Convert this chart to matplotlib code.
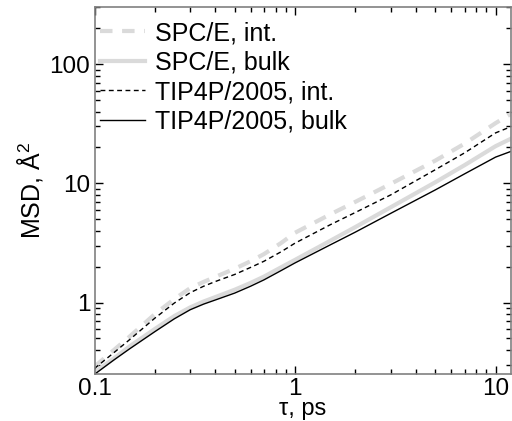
import matplotlib
matplotlib.use("Agg")
import matplotlib.pyplot as plt
from matplotlib.ticker import LogLocator, NullFormatter, FixedLocator, FixedFormatter

plt.rcParams['font.family'] = ['Liberation Sans', 'DejaVu Sans']
plt.rcParams['mathtext.fontset'] = 'custom'
plt.rcParams['mathtext.rm'] = 'Liberation Sans'

# MSD curves, tau in ps, MSD in A^2
tau = [0.1, 0.125, 0.15, 0.2, 0.25, 0.3, 0.35, 0.4, 0.5, 0.6, 0.7, 0.85, 1.0,
       1.5, 2.0, 3.0, 5.0, 7.0, 10.0, 12.0]
spce_int = [0.29, 0.40, 0.52, 0.80, 1.07, 1.32, 1.49, 1.64, 1.92, 2.22, 2.55, 3.15, 3.85,
            5.5, 7.0, 9.9, 15.5, 21.5, 32.0, 38.5]
spce_bulk = [0.26, 0.34, 0.43, 0.60, 0.77, 0.91, 1.02, 1.11, 1.28, 1.46, 1.65, 1.97, 2.28,
             3.30, 4.30, 6.30, 10.2, 14.2, 20.5, 23.8]
tip4p_int = [0.28, 0.38, 0.49, 0.74, 0.99, 1.21, 1.37, 1.50, 1.72, 1.97, 2.22, 2.66, 3.15,
             4.50, 5.70, 8.00, 13.0, 18.0, 26.5, 30.0]
tip4p_bulk = [0.25, 0.33, 0.41, 0.57, 0.73, 0.87, 0.97, 1.05, 1.20, 1.37, 1.55, 1.85, 2.15,
              3.05, 3.90, 5.60, 8.80, 12.0, 16.6, 18.6]

labels = ["SPC/E, int.", "SPC/E, bulk", "TIP4P/2005, int.", "TIP4P/2005, bulk"]
lgray = "#dadada"

fig = plt.figure(figsize=(5.12, 4.21), dpi=100)
ax = fig.add_axes([0.1846, 0.1124, 0.8129, 0.8703])

ax.plot(tau, spce_int, color=lgray, lw=3.0, ls=(0, (3.0, 2.3)), label=labels[0])
ax.plot(tau, spce_bulk, color=lgray, lw=3.0, label=labels[1])
ax.plot(tau, tip4p_int, color="black", lw=1.0, ls=(0, (3.5, 2.5)), label=labels[2])
ax.plot(tau, tip4p_bulk, color="black", lw=1.0, label=labels[3])

ax.set_xscale("log")
ax.set_yscale("log")
ax.set_xlim(0.1, 11.9)
ax.set_ylim(0.253, 300)

ax.xaxis.set_major_locator(FixedLocator([0.1, 1, 10]))
ax.xaxis.set_major_formatter(FixedFormatter(["0.1", "1", "10"]))
ax.yaxis.set_major_locator(FixedLocator([1, 10, 100]))
ax.yaxis.set_major_formatter(FixedFormatter(["1", "10", "100"]))
for a in (ax.xaxis, ax.yaxis):
    a.set_minor_locator(LogLocator(base=10, subs=range(2, 10)))
    a.set_minor_formatter(NullFormatter())

ax.tick_params(which="both", direction="in", top=True, right=True, colors="black", labelsize=17.5)
ax.tick_params(which="major", length=6, width=1.0, pad=3)
ax.tick_params(which="minor", length=3.5, width=1.0)
for s in ax.spines.values():
    s.set_color("#808080")
    s.set_linewidth(1.2)

ax.set_xlabel("τ, ps", fontsize=17)
ax.xaxis.set_label_coords(0.5, -0.112)
ax.xaxis.label.set_va("baseline")
ax.set_ylabel(r"MSD, Å$^2$", fontsize=18, labelpad=3)

ax.legend(loc="upper left", frameon=False, fontsize=18, handlelength=1.8,
          handletextpad=0.4, labelspacing=0.22, borderpad=0, borderaxespad=0,
          bbox_to_anchor=(0.013, 0.962))

fig.savefig("out.png", dpi=100)
